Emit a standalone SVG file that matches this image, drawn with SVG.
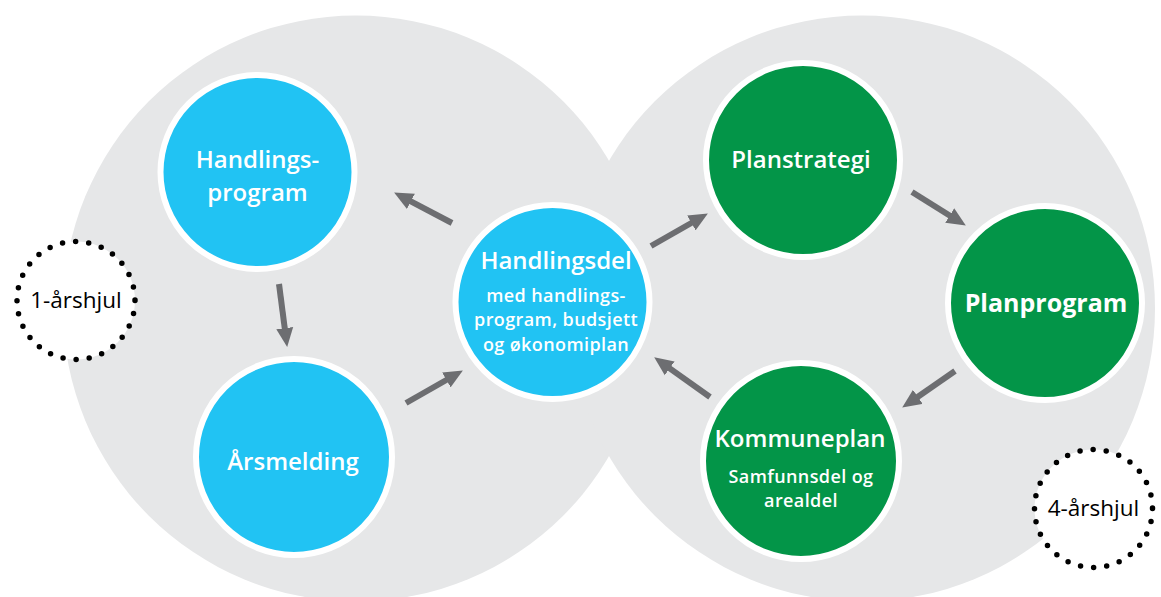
<svg xmlns="http://www.w3.org/2000/svg" width="1161" height="597" viewBox="0 0 1161 597">
<defs>
<style>
.bg{fill:#e6e7e8}
.blue{fill:#21c3f3;stroke:#ffffff;stroke-width:6}
.green{fill:#039548;stroke:#ffffff;stroke-width:6}
.t{font-family:"Open Sans",Lato,sans-serif;fill:#ffffff;text-anchor:middle}
.h{font-size:24px;font-weight:600}
.s{font-size:18px;font-weight:600;letter-spacing:0.4px}
.arr{stroke:#6d6e71;stroke-width:6;fill:none;marker-end:url(#ah)}
.dot{fill:#ffffff;stroke:#000000;stroke-width:5.5;stroke-linecap:round;stroke-dasharray:0 13.2}
.dt{font-family:"Open Sans",Lato,sans-serif;font-size:22.5px;font-weight:500;fill:#000000;text-anchor:middle}
</style>
<marker id="ah" markerUnits="userSpaceOnUse" markerWidth="20" markerHeight="18" viewBox="0 -9 20 18" refX="6" refY="0" orient="auto">
<path d="M0,-8.5 L19,0 L0,8.5 Z" fill="#6d6e71"/>
</marker>
</defs>
<g id="background">
<circle class="bg" cx="356" cy="308.5" r="293"/>
<circle class="bg" cx="862" cy="308.5" r="293"/>
</g>
<g id="connectors">
<line class="arr" x1="452" y1="223" x2="405.6" y2="198.6"/>
<line class="arr" x1="279" y1="284" x2="285.5" y2="334.1"/>
<line class="arr" x1="406" y1="403" x2="451.6" y2="377"/>
<line class="arr" x1="651" y1="246" x2="696.6" y2="220"/>
<line class="arr" x1="912" y1="192" x2="954.8" y2="218.7"/>
<line class="arr" x1="955" y1="371" x2="912.9" y2="400.2"/>
<line class="arr" x1="710" y1="397" x2="664.8" y2="364.9"/>
</g>
<g id="handlingsprogram">
<circle class="blue" cx="257.5" cy="172" r="97"/>
<text class="t h" x="257.5" y="168">Handlings-</text>
<text class="t h" x="257.5" y="201">program</text>
</g>
<g id="arsmelding">
<circle class="blue" cx="294" cy="457" r="98"/>
<text class="t h" x="293" y="470">Årsmelding</text>
</g>
<g id="handlingsdel">
<circle class="blue" cx="552.5" cy="302" r="97"/>
<text class="t h" x="556" y="269">Handlingsdel</text>
<text class="t s" x="556" y="301.5">med handlings-</text>
<text class="t s" x="556" y="326">program, budsjett</text>
<text class="t s" x="556" y="350.5">og økonomiplan</text>
</g>
<g id="planstrategi">
<circle class="green" cx="803" cy="160" r="97"/>
<text class="t h" x="801" y="168">Planstrategi</text>
</g>
<g id="planprogram">
<circle class="green" cx="1045" cy="303" r="97"/>
<text class="t" x="1046" y="312" style="font-size:25px;font-weight:700">Planprogram</text>
</g>
<g id="kommuneplan">
<circle class="green" cx="801" cy="461" r="98"/>
<text class="t h" x="800" y="447">Kommuneplan</text>
<text class="t s" x="801" y="482.5">Samfunnsdel og</text>
<text class="t s" x="801" y="507">arealdel</text>
</g>
<g id="arshjul1">
<circle class="dot" cx="76" cy="300.5" r="59"/>
<text class="dt" x="76" y="308">1-årshjul</text>
</g>
<g id="arshjul4">
<circle class="dot" cx="1093.5" cy="508.5" r="59"/>
<text class="dt" x="1093.5" y="516">4-årshjul</text>
</g>
</svg>
